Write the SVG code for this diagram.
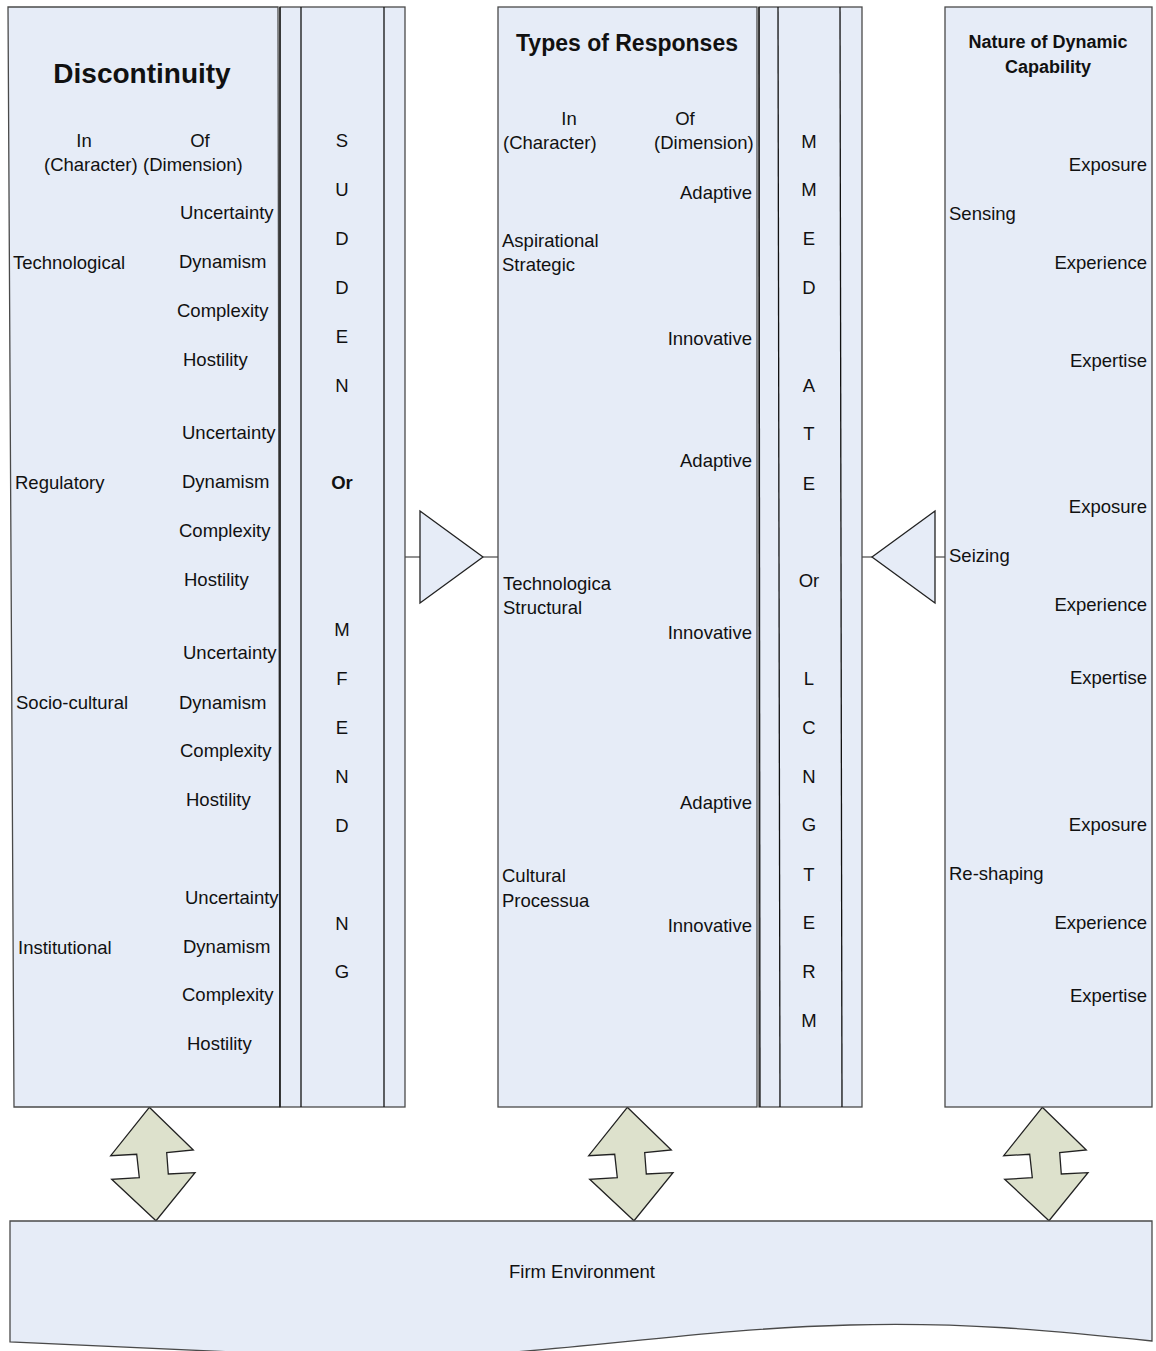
<svg xmlns="http://www.w3.org/2000/svg" width="1156" height="1351" viewBox="0 0 1156 1351">
<style>
.box{fill:#E6ECF7;stroke:#4a4a4a;stroke-width:1.3}
.ln{stroke:#111;stroke-width:1.3;fill:none}
.arr{fill:#DDE1CC;stroke:#222;stroke-width:1.3}
.con{stroke:#555;stroke-width:1.3;fill:none}
text{font-family:"Liberation Sans",Arial,sans-serif;font-size:18.5px;fill:#111}
.h{font-weight:bold}
.m{text-anchor:middle}
.e{text-anchor:end}
</style>
<rect width="1156" height="1351" fill="#fff"/>
<g id="connectors">
<line class="con" x1="405" y1="557" x2="420" y2="557"/>
<polygon class="box" points="420,511 483,557 420,603" style="stroke:#222"/>
<line class="con" x1="483" y1="557" x2="498" y2="557"/>
<line class="con" x1="862" y1="557" x2="872" y2="557"/>
<polygon class="box" points="935,511 872,557 935,603" style="stroke:#222"/>
<line class="con" x1="935" y1="557" x2="945" y2="557"/>
<polygon class="arr" points="149.3,1107.3 110.7,1155.7 136.7,1154.3 139.3,1177.7 111.7,1179.3 156,1220.7 195,1172.7 168.3,1174 166.7,1152.7 193.3,1150"/>
<polygon class="arr" transform="translate(478,0)" points="149.3,1107.3 110.7,1155.7 136.7,1154.3 139.3,1177.7 111.7,1179.3 156,1220.7 195,1172.7 168.3,1174 166.7,1152.7 193.3,1150"/>
<polygon class="arr" transform="translate(893,0)" points="149.3,1107.3 110.7,1155.7 136.7,1154.3 139.3,1177.7 111.7,1179.3 156,1220.7 195,1172.7 168.3,1174 166.7,1152.7 193.3,1150"/>
</g>
<g id="discontinuity">
<polygon class="box" points="8,7 278,7 280,1107 14,1107"/>
<text class="h m" x="142" y="83" style="font-size:28px">Discontinuity</text>
<text class="m" x="84" y="147">In</text>
<text class="m" x="200" y="147">Of</text>
<text x="44" y="171">(Character)</text>
<text x="143" y="171">(Dimension)</text>
<text x="13" y="269">Technological</text>
<text x="15" y="489">Regulatory</text>
<text x="16" y="709">Socio-cultural</text>
<text x="18" y="954">Institutional</text>
<text x="180" y="219">Uncertainty</text>
<text x="179" y="268">Dynamism</text>
<text x="177" y="317">Complexity</text>
<text x="183" y="366">Hostility</text>
<text x="182" y="439">Uncertainty</text>
<text x="182" y="488">Dynamism</text>
<text x="179" y="537">Complexity</text>
<text x="184" y="586">Hostility</text>
<text x="183" y="659">Uncertainty</text>
<text x="179" y="709">Dynamism</text>
<text x="180" y="757">Complexity</text>
<text x="186" y="806">Hostility</text>
<text x="185" y="904">Uncertainty</text>
<text x="183" y="953">Dynamism</text>
<text x="182" y="1001">Complexity</text>
<text x="187" y="1050">Hostility</text>
</g>
<g id="sudden-band">
<rect class="box" x="280" y="7" width="125" height="1100"/>
<line class="ln" x1="280" y1="7" x2="280" y2="1107"/>
<line class="ln" x1="301" y1="7" x2="301" y2="1107"/>
<line class="ln" x1="384" y1="7" x2="384" y2="1107"/>
<text class="m" x="342" y="147">S</text>
<text class="m" x="342" y="196">U</text>
<text class="m" x="342" y="245">D</text>
<text class="m" x="342" y="294">D</text>
<text class="m" x="342" y="343">E</text>
<text class="m" x="342" y="392">N</text>
<text class="m h" x="342" y="489">Or</text>
<text class="m" x="342" y="636">M</text>
<text class="m" x="342" y="685">F</text>
<text class="m" x="342" y="734">E</text>
<text class="m" x="342" y="783">N</text>
<text class="m" x="342" y="832">D</text>
<text class="m" x="342" y="930">N</text>
<text class="m" x="342" y="978">G</text>
</g>
<g id="responses">
<rect class="box" x="498" y="7" width="259" height="1100"/>
<text class="h" x="516" y="51" style="font-size:23px">Types of Responses</text>
<text class="m" x="569" y="125">In</text>
<text class="m" x="685" y="125">Of</text>
<text x="503" y="149">(Character)</text>
<text x="654" y="149">(Dimension)</text>
<text x="502" y="247">Aspirational</text>
<text x="502" y="271">Strategic</text>
<text x="503" y="590">Technologica</text>
<text x="503" y="614">Structural</text>
<text x="502" y="882">Cultural</text>
<text x="502" y="907">Processua</text>
<text class="e" x="752" y="199">Adaptive</text>
<text class="e" x="752" y="345">Innovative</text>
<text class="e" x="752" y="467">Adaptive</text>
<text class="e" x="752" y="639">Innovative</text>
<text class="e" x="752" y="809">Adaptive</text>
<text class="e" x="752" y="932">Innovative</text>
</g>
<g id="immediate-band">
<rect class="box" x="759" y="7" width="103" height="1100"/>
<line class="ln" x1="759" y1="7" x2="760" y2="1107"/>
<line class="ln" x1="778" y1="7" x2="780" y2="1107"/>
<line class="ln" x1="840" y1="7" x2="842" y2="1107"/>
<text class="m" x="809" y="148">M</text>
<text class="m" x="809" y="196">M</text>
<text class="m" x="809" y="245">E</text>
<text class="m" x="809" y="294">D</text>
<text class="m" x="809" y="392">A</text>
<text class="m" x="809" y="440">T</text>
<text class="m" x="809" y="490">E</text>
<text class="m" x="809" y="587">Or</text>
<text class="m" x="809" y="685">L</text>
<text class="m" x="809" y="734">C</text>
<text class="m" x="809" y="783">N</text>
<text class="m" x="809" y="831">G</text>
<text class="m" x="809" y="881">T</text>
<text class="m" x="809" y="929">E</text>
<text class="m" x="809" y="978">R</text>
<text class="m" x="809" y="1027">M</text>
</g>
<g id="dynamic-capability">
<rect class="box" x="945" y="7" width="207" height="1100"/>
<text class="h m" x="1048" y="48" style="font-size:18px">Nature of Dynamic</text>
<text class="h m" x="1048" y="73" style="font-size:18px">Capability</text>
<text x="949" y="220">Sensing</text>
<text x="949" y="562">Seizing</text>
<text x="949" y="880">Re-shaping</text>
<text class="e" x="1147" y="171">Exposure</text>
<text class="e" x="1147" y="269">Experience</text>
<text class="e" x="1147" y="367">Expertise</text>
<text class="e" x="1147" y="513">Exposure</text>
<text class="e" x="1147" y="611">Experience</text>
<text class="e" x="1147" y="684">Expertise</text>
<text class="e" x="1147" y="831">Exposure</text>
<text class="e" x="1147" y="929">Experience</text>
<text class="e" x="1147" y="1002">Expertise</text>
</g>
<g id="firm-environment">
<path class="box" d="M10,1221 H1152 V1341 C1050,1330 960,1322 850,1325 C650,1330 500,1368 300,1355 C200,1350 100,1346 10,1342 Z"/>
<text class="m" x="582" y="1278">Firm Environment</text>
</g>
</svg>
